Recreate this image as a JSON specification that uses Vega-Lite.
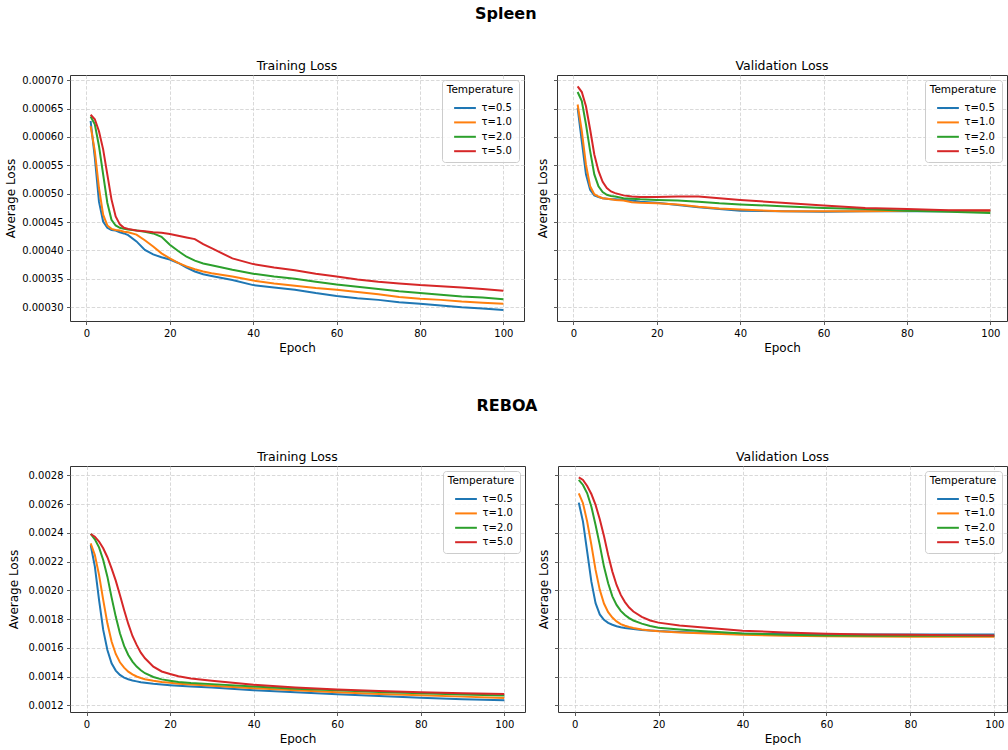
{
  "$schema": "https://vega.github.io/schema/vega-lite/v6.json",
  "padding": {"left": 4, "top": 6, "right": 0, "bottom": 0},
  "background": "white",
  "config": {
    "font": "DejaVu Sans",
    "view": {"stroke": "#333333", "strokeWidth": 1},
    "axis": {
      "domain": false, "grid": true, "gridColor": "#cfcfcf", "gridDash": [3.5, 1.8], "gridWidth": 0.8,
      "ticks": true, "tickColor": "#333333", "tickSize": 3.5, "tickWidth": 0.8,
      "labelFontSize": 10, "labelColor": "#000000", "labelPadding": 3.5,
      "titleFontSize": 12, "titleFontWeight": "normal", "titleColor": "#000000", "titlePadding": 4
    },
    "title": {"fontSize": 12.5, "fontWeight": "normal", "color": "#000000", "offset": 3},
    "legend": {
      "orient": "top-right", "offset": 5, "padding": 5,
      "fillColor": "rgba(255,255,255,0.8)", "strokeColor": "#cccccc", "cornerRadius": 3,
      "titleFontSize": 10.5, "titleFontWeight": "normal", "titleColor": "#000000", "titleAnchor": "middle", "titlePadding": 4,
      "labelFontSize": 10, "labelColor": "#000000", "labelOffset": 8,
      "symbolType": "M-1.45,0H1.45", "symbolSize": 225, "symbolStrokeWidth": 2, "symbolOffset": 7.5, "rowPadding": 0.4
    }
  },
  "datasets": {
    "spleen_train": [
      {"tau":"τ=0.5","epoch":1,"loss":0.000628},{"tau":"τ=0.5","epoch":2,"loss":0.000564},{"tau":"τ=0.5","epoch":3,"loss":0.000486},{"tau":"τ=0.5","epoch":4,"loss":0.000451},{"tau":"τ=0.5","epoch":5,"loss":0.00044},{"tau":"τ=0.5","epoch":6,"loss":0.000436},{"tau":"τ=0.5","epoch":7,"loss":0.000435},{"tau":"τ=0.5","epoch":8,"loss":0.000432},{"tau":"τ=0.5","epoch":9,"loss":0.00043},{"tau":"τ=0.5","epoch":10,"loss":0.000427},{"tau":"τ=0.5","epoch":12,"loss":0.000416},{"tau":"τ=0.5","epoch":14,"loss":0.000401},{"tau":"τ=0.5","epoch":16,"loss":0.000393},{"tau":"τ=0.5","epoch":18,"loss":0.000388},{"tau":"τ=0.5","epoch":20,"loss":0.000384},{"tau":"τ=0.5","epoch":22,"loss":0.000378},{"tau":"τ=0.5","epoch":24,"loss":0.00037},{"tau":"τ=0.5","epoch":26,"loss":0.000363},{"tau":"τ=0.5","epoch":28,"loss":0.000358},{"tau":"τ=0.5","epoch":30,"loss":0.000355},{"tau":"τ=0.5","epoch":35,"loss":0.000348},{"tau":"τ=0.5","epoch":40,"loss":0.000339},{"tau":"τ=0.5","epoch":45,"loss":0.000335},{"tau":"τ=0.5","epoch":50,"loss":0.000331},{"tau":"τ=0.5","epoch":55,"loss":0.000325},{"tau":"τ=0.5","epoch":60,"loss":0.00032},{"tau":"τ=0.5","epoch":65,"loss":0.000316},{"tau":"τ=0.5","epoch":70,"loss":0.000313},{"tau":"τ=0.5","epoch":75,"loss":0.000309},{"tau":"τ=0.5","epoch":80,"loss":0.000306},{"tau":"τ=0.5","epoch":85,"loss":0.000303},{"tau":"τ=0.5","epoch":90,"loss":0.0003},{"tau":"τ=0.5","epoch":95,"loss":0.000298},{"tau":"τ=0.5","epoch":100,"loss":0.000295},
      {"tau":"τ=1.0","epoch":1,"loss":0.000619},{"tau":"τ=1.0","epoch":2,"loss":0.000575},{"tau":"τ=1.0","epoch":3,"loss":0.00051},{"tau":"τ=1.0","epoch":4,"loss":0.000463},{"tau":"τ=1.0","epoch":5,"loss":0.000444},{"tau":"τ=1.0","epoch":6,"loss":0.000438},{"tau":"τ=1.0","epoch":7,"loss":0.000436},{"tau":"τ=1.0","epoch":8,"loss":0.000435},{"tau":"τ=1.0","epoch":9,"loss":0.000433},{"tau":"τ=1.0","epoch":10,"loss":0.000432},{"tau":"τ=1.0","epoch":12,"loss":0.000428},{"tau":"τ=1.0","epoch":14,"loss":0.000418},{"tau":"τ=1.0","epoch":16,"loss":0.000407},{"tau":"τ=1.0","epoch":18,"loss":0.000395},{"tau":"τ=1.0","epoch":20,"loss":0.000386},{"tau":"τ=1.0","epoch":22,"loss":0.000378},{"tau":"τ=1.0","epoch":24,"loss":0.000372},{"tau":"τ=1.0","epoch":26,"loss":0.000367},{"tau":"τ=1.0","epoch":28,"loss":0.000363},{"tau":"τ=1.0","epoch":30,"loss":0.00036},{"tau":"τ=1.0","epoch":35,"loss":0.000354},{"tau":"τ=1.0","epoch":40,"loss":0.000347},{"tau":"τ=1.0","epoch":45,"loss":0.000342},{"tau":"τ=1.0","epoch":50,"loss":0.000338},{"tau":"τ=1.0","epoch":55,"loss":0.000334},{"tau":"τ=1.0","epoch":60,"loss":0.000331},{"tau":"τ=1.0","epoch":65,"loss":0.000327},{"tau":"τ=1.0","epoch":70,"loss":0.000323},{"tau":"τ=1.0","epoch":75,"loss":0.000318},{"tau":"τ=1.0","epoch":80,"loss":0.000315},{"tau":"τ=1.0","epoch":85,"loss":0.000313},{"tau":"τ=1.0","epoch":90,"loss":0.00031},{"tau":"τ=1.0","epoch":95,"loss":0.000308},{"tau":"τ=1.0","epoch":100,"loss":0.000306},
      {"tau":"τ=2.0","epoch":1,"loss":0.000636},{"tau":"τ=2.0","epoch":2,"loss":0.000622},{"tau":"τ=2.0","epoch":3,"loss":0.000584},{"tau":"τ=2.0","epoch":4,"loss":0.000534},{"tau":"τ=2.0","epoch":5,"loss":0.000484},{"tau":"τ=2.0","epoch":6,"loss":0.000454},{"tau":"τ=2.0","epoch":7,"loss":0.000444},{"tau":"τ=2.0","epoch":8,"loss":0.00044},{"tau":"τ=2.0","epoch":9,"loss":0.000438},{"tau":"τ=2.0","epoch":10,"loss":0.000437},{"tau":"τ=2.0","epoch":12,"loss":0.000435},{"tau":"τ=2.0","epoch":14,"loss":0.000433},{"tau":"τ=2.0","epoch":16,"loss":0.00043},{"tau":"τ=2.0","epoch":18,"loss":0.000424},{"tau":"τ=2.0","epoch":20,"loss":0.00041},{"tau":"τ=2.0","epoch":22,"loss":0.000399},{"tau":"τ=2.0","epoch":24,"loss":0.000389},{"tau":"τ=2.0","epoch":26,"loss":0.000382},{"tau":"τ=2.0","epoch":28,"loss":0.000377},{"tau":"τ=2.0","epoch":30,"loss":0.000374},{"tau":"τ=2.0","epoch":35,"loss":0.000366},{"tau":"τ=2.0","epoch":40,"loss":0.000359},{"tau":"τ=2.0","epoch":45,"loss":0.000354},{"tau":"τ=2.0","epoch":50,"loss":0.00035},{"tau":"τ=2.0","epoch":55,"loss":0.000345},{"tau":"τ=2.0","epoch":60,"loss":0.00034},{"tau":"τ=2.0","epoch":65,"loss":0.000336},{"tau":"τ=2.0","epoch":70,"loss":0.000332},{"tau":"τ=2.0","epoch":75,"loss":0.000328},{"tau":"τ=2.0","epoch":80,"loss":0.000325},{"tau":"τ=2.0","epoch":85,"loss":0.000322},{"tau":"τ=2.0","epoch":90,"loss":0.000319},{"tau":"τ=2.0","epoch":95,"loss":0.000317},{"tau":"τ=2.0","epoch":100,"loss":0.000314},
      {"tau":"τ=5.0","epoch":1,"loss":0.000639},{"tau":"τ=5.0","epoch":2,"loss":0.000631},{"tau":"τ=5.0","epoch":3,"loss":0.00061},{"tau":"τ=5.0","epoch":4,"loss":0.000578},{"tau":"τ=5.0","epoch":5,"loss":0.000534},{"tau":"τ=5.0","epoch":6,"loss":0.00049},{"tau":"τ=5.0","epoch":7,"loss":0.00046},{"tau":"τ=5.0","epoch":8,"loss":0.000446},{"tau":"τ=5.0","epoch":9,"loss":0.00044},{"tau":"τ=5.0","epoch":10,"loss":0.000438},{"tau":"τ=5.0","epoch":12,"loss":0.000435},{"tau":"τ=5.0","epoch":14,"loss":0.000434},{"tau":"τ=5.0","epoch":16,"loss":0.000432},{"tau":"τ=5.0","epoch":18,"loss":0.000431},{"tau":"τ=5.0","epoch":20,"loss":0.000429},{"tau":"τ=5.0","epoch":22,"loss":0.000426},{"tau":"τ=5.0","epoch":24,"loss":0.000423},{"tau":"τ=5.0","epoch":26,"loss":0.00042},{"tau":"τ=5.0","epoch":28,"loss":0.000411},{"tau":"τ=5.0","epoch":30,"loss":0.000404},{"tau":"τ=5.0","epoch":35,"loss":0.000386},{"tau":"τ=5.0","epoch":40,"loss":0.000376},{"tau":"τ=5.0","epoch":45,"loss":0.00037},{"tau":"τ=5.0","epoch":50,"loss":0.000365},{"tau":"τ=5.0","epoch":55,"loss":0.000359},{"tau":"τ=5.0","epoch":60,"loss":0.000354},{"tau":"τ=5.0","epoch":65,"loss":0.000349},{"tau":"τ=5.0","epoch":70,"loss":0.000345},{"tau":"τ=5.0","epoch":75,"loss":0.000342},{"tau":"τ=5.0","epoch":80,"loss":0.000339},{"tau":"τ=5.0","epoch":85,"loss":0.000337},{"tau":"τ=5.0","epoch":90,"loss":0.000335},{"tau":"τ=5.0","epoch":95,"loss":0.000332},{"tau":"τ=5.0","epoch":100,"loss":0.000329}
    ],
    "spleen_val": [
      {"tau":"τ=0.5","epoch":1,"loss":0.000651},{"tau":"τ=0.5","epoch":2,"loss":0.000592},{"tau":"τ=0.5","epoch":3,"loss":0.000534},{"tau":"τ=0.5","epoch":4,"loss":0.000507},{"tau":"τ=0.5","epoch":5,"loss":0.000497},{"tau":"τ=0.5","epoch":6,"loss":0.000494},{"tau":"τ=0.5","epoch":7,"loss":0.000492},{"tau":"τ=0.5","epoch":8,"loss":0.000491},{"tau":"τ=0.5","epoch":9,"loss":0.00049},{"tau":"τ=0.5","epoch":10,"loss":0.00049},{"tau":"τ=0.5","epoch":12,"loss":0.000489},{"tau":"τ=0.5","epoch":14,"loss":0.000488},{"tau":"τ=0.5","epoch":16,"loss":0.000486},{"tau":"τ=0.5","epoch":20,"loss":0.000484},{"tau":"τ=0.5","epoch":25,"loss":0.00048},{"tau":"τ=0.5","epoch":30,"loss":0.000476},{"tau":"τ=0.5","epoch":35,"loss":0.000473},{"tau":"τ=0.5","epoch":40,"loss":0.00047},{"tau":"τ=0.5","epoch":50,"loss":0.000469},{"tau":"τ=0.5","epoch":60,"loss":0.000468},{"tau":"τ=0.5","epoch":70,"loss":0.000469},{"tau":"τ=0.5","epoch":80,"loss":0.000469},{"tau":"τ=0.5","epoch":90,"loss":0.000469},{"tau":"τ=0.5","epoch":100,"loss":0.000469},
      {"tau":"τ=1.0","epoch":1,"loss":0.000657},{"tau":"τ=1.0","epoch":2,"loss":0.00061},{"tau":"τ=1.0","epoch":3,"loss":0.000551},{"tau":"τ=1.0","epoch":4,"loss":0.000513},{"tau":"τ=1.0","epoch":5,"loss":0.000499},{"tau":"τ=1.0","epoch":6,"loss":0.000495},{"tau":"τ=1.0","epoch":7,"loss":0.000492},{"tau":"τ=1.0","epoch":8,"loss":0.000491},{"tau":"τ=1.0","epoch":9,"loss":0.00049},{"tau":"τ=1.0","epoch":10,"loss":0.000489},{"tau":"τ=1.0","epoch":12,"loss":0.000488},{"tau":"τ=1.0","epoch":14,"loss":0.000485},{"tau":"τ=1.0","epoch":16,"loss":0.000484},{"tau":"τ=1.0","epoch":20,"loss":0.000483},{"tau":"τ=1.0","epoch":25,"loss":0.000481},{"tau":"τ=1.0","epoch":30,"loss":0.000477},{"tau":"τ=1.0","epoch":35,"loss":0.000474},{"tau":"τ=1.0","epoch":40,"loss":0.000472},{"tau":"τ=1.0","epoch":50,"loss":0.000469},{"tau":"τ=1.0","epoch":60,"loss":0.000469},{"tau":"τ=1.0","epoch":70,"loss":0.000469},{"tau":"τ=1.0","epoch":80,"loss":0.00047},{"tau":"τ=1.0","epoch":90,"loss":0.00047},{"tau":"τ=1.0","epoch":100,"loss":0.00047},
      {"tau":"τ=2.0","epoch":1,"loss":0.000679},{"tau":"τ=2.0","epoch":2,"loss":0.000663},{"tau":"τ=2.0","epoch":3,"loss":0.000622},{"tau":"τ=2.0","epoch":4,"loss":0.000575},{"tau":"τ=2.0","epoch":5,"loss":0.000534},{"tau":"τ=2.0","epoch":6,"loss":0.000513},{"tau":"τ=2.0","epoch":7,"loss":0.000503},{"tau":"τ=2.0","epoch":8,"loss":0.000498},{"tau":"τ=2.0","epoch":9,"loss":0.000496},{"tau":"τ=2.0","epoch":10,"loss":0.000495},{"tau":"τ=2.0","epoch":12,"loss":0.000492},{"tau":"τ=2.0","epoch":14,"loss":0.000491},{"tau":"τ=2.0","epoch":16,"loss":0.00049},{"tau":"τ=2.0","epoch":20,"loss":0.000489},{"tau":"τ=2.0","epoch":25,"loss":0.000488},{"tau":"τ=2.0","epoch":30,"loss":0.000486},{"tau":"τ=2.0","epoch":35,"loss":0.000483},{"tau":"τ=2.0","epoch":40,"loss":0.000481},{"tau":"τ=2.0","epoch":50,"loss":0.000478},{"tau":"τ=2.0","epoch":60,"loss":0.000475},{"tau":"τ=2.0","epoch":70,"loss":0.000473},{"tau":"τ=2.0","epoch":80,"loss":0.00047},{"tau":"τ=2.0","epoch":90,"loss":0.000468},{"tau":"τ=2.0","epoch":100,"loss":0.000466},
      {"tau":"τ=5.0","epoch":1,"loss":0.000689},{"tau":"τ=5.0","epoch":2,"loss":0.000679},{"tau":"τ=5.0","epoch":3,"loss":0.000654},{"tau":"τ=5.0","epoch":4,"loss":0.000613},{"tau":"τ=5.0","epoch":5,"loss":0.000569},{"tau":"τ=5.0","epoch":6,"loss":0.00054},{"tau":"τ=5.0","epoch":7,"loss":0.000521},{"tau":"τ=5.0","epoch":8,"loss":0.00051},{"tau":"τ=5.0","epoch":9,"loss":0.000504},{"tau":"τ=5.0","epoch":10,"loss":0.000501},{"tau":"τ=5.0","epoch":12,"loss":0.000497},{"tau":"τ=5.0","epoch":14,"loss":0.000495},{"tau":"τ=5.0","epoch":16,"loss":0.000494},{"tau":"τ=5.0","epoch":20,"loss":0.000494},{"tau":"τ=5.0","epoch":25,"loss":0.000495},{"tau":"τ=5.0","epoch":30,"loss":0.000495},{"tau":"τ=5.0","epoch":35,"loss":0.000492},{"tau":"τ=5.0","epoch":40,"loss":0.000489},{"tau":"τ=5.0","epoch":50,"loss":0.000484},{"tau":"τ=5.0","epoch":60,"loss":0.000479},{"tau":"τ=5.0","epoch":70,"loss":0.000475},{"tau":"τ=5.0","epoch":80,"loss":0.000473},{"tau":"τ=5.0","epoch":90,"loss":0.000471},{"tau":"τ=5.0","epoch":100,"loss":0.000471}
    ],
    "reboa_train": [
      {"tau":"τ=0.5","epoch":1,"loss":0.002315},{"tau":"τ=0.5","epoch":2,"loss":0.002165},{"tau":"τ=0.5","epoch":3,"loss":0.001933},{"tau":"τ=0.5","epoch":4,"loss":0.001724},{"tau":"τ=0.5","epoch":5,"loss":0.001585},{"tau":"τ=0.5","epoch":6,"loss":0.001492},{"tau":"τ=0.5","epoch":7,"loss":0.001441},{"tau":"τ=0.5","epoch":8,"loss":0.001411},{"tau":"τ=0.5","epoch":9,"loss":0.001392},{"tau":"τ=0.5","epoch":10,"loss":0.001381},{"tau":"τ=0.5","epoch":11,"loss":0.001372},{"tau":"τ=0.5","epoch":12,"loss":0.001366},{"tau":"τ=0.5","epoch":13,"loss":0.00136},{"tau":"τ=0.5","epoch":14,"loss":0.001356},{"tau":"τ=0.5","epoch":16,"loss":0.001349},{"tau":"τ=0.5","epoch":18,"loss":0.001344},{"tau":"τ=0.5","epoch":20,"loss":0.00134},{"tau":"τ=0.5","epoch":22,"loss":0.001336},{"tau":"τ=0.5","epoch":25,"loss":0.00133},{"tau":"τ=0.5","epoch":30,"loss":0.001323},{"tau":"τ=0.5","epoch":40,"loss":0.001305},{"tau":"τ=0.5","epoch":50,"loss":0.001291},{"tau":"τ=0.5","epoch":60,"loss":0.001277},{"tau":"τ=0.5","epoch":70,"loss":0.001265},{"tau":"τ=0.5","epoch":80,"loss":0.001253},{"tau":"τ=0.5","epoch":90,"loss":0.001242},{"tau":"τ=0.5","epoch":100,"loss":0.001235},
      {"tau":"τ=1.0","epoch":1,"loss":0.002327},{"tau":"τ=1.0","epoch":2,"loss":0.002246},{"tau":"τ=1.0","epoch":3,"loss":0.002107},{"tau":"τ=1.0","epoch":4,"loss":0.001933},{"tau":"τ=1.0","epoch":5,"loss":0.00177},{"tau":"τ=1.0","epoch":6,"loss":0.001643},{"tau":"τ=1.0","epoch":7,"loss":0.001557},{"tau":"τ=1.0","epoch":8,"loss":0.001499},{"tau":"τ=1.0","epoch":9,"loss":0.001462},{"tau":"τ=1.0","epoch":10,"loss":0.001434},{"tau":"τ=1.0","epoch":11,"loss":0.001415},{"tau":"τ=1.0","epoch":12,"loss":0.0014},{"tau":"τ=1.0","epoch":13,"loss":0.00139},{"tau":"τ=1.0","epoch":14,"loss":0.001381},{"tau":"τ=1.0","epoch":16,"loss":0.00137},{"tau":"τ=1.0","epoch":18,"loss":0.001362},{"tau":"τ=1.0","epoch":20,"loss":0.001356},{"tau":"τ=1.0","epoch":22,"loss":0.00135},{"tau":"τ=1.0","epoch":25,"loss":0.001344},{"tau":"τ=1.0","epoch":30,"loss":0.001336},{"tau":"τ=1.0","epoch":40,"loss":0.001319},{"tau":"τ=1.0","epoch":50,"loss":0.001305},{"tau":"τ=1.0","epoch":60,"loss":0.001291},{"tau":"τ=1.0","epoch":70,"loss":0.001279},{"tau":"τ=1.0","epoch":80,"loss":0.00127},{"tau":"τ=1.0","epoch":90,"loss":0.00126},{"tau":"τ=1.0","epoch":100,"loss":0.001251},
      {"tau":"τ=2.0","epoch":1,"loss":0.002392},{"tau":"τ=2.0","epoch":2,"loss":0.002355},{"tau":"τ=2.0","epoch":3,"loss":0.002299},{"tau":"τ=2.0","epoch":4,"loss":0.002211},{"tau":"τ=2.0","epoch":5,"loss":0.002095},{"tau":"τ=2.0","epoch":6,"loss":0.001951},{"tau":"τ=2.0","epoch":7,"loss":0.001817},{"tau":"τ=2.0","epoch":8,"loss":0.001701},{"tau":"τ=2.0","epoch":9,"loss":0.001613},{"tau":"τ=2.0","epoch":10,"loss":0.00155},{"tau":"τ=2.0","epoch":11,"loss":0.001504},{"tau":"τ=2.0","epoch":12,"loss":0.001469},{"tau":"τ=2.0","epoch":13,"loss":0.001443},{"tau":"τ=2.0","epoch":14,"loss":0.001423},{"tau":"τ=2.0","epoch":16,"loss":0.001397},{"tau":"τ=2.0","epoch":18,"loss":0.00138},{"tau":"τ=2.0","epoch":20,"loss":0.00137},{"tau":"τ=2.0","epoch":22,"loss":0.001362},{"tau":"τ=2.0","epoch":25,"loss":0.001355},{"tau":"τ=2.0","epoch":30,"loss":0.001347},{"tau":"τ=2.0","epoch":40,"loss":0.00133},{"tau":"τ=2.0","epoch":50,"loss":0.001314},{"tau":"τ=2.0","epoch":60,"loss":0.001305},{"tau":"τ=2.0","epoch":70,"loss":0.001293},{"tau":"τ=2.0","epoch":80,"loss":0.001284},{"tau":"τ=2.0","epoch":90,"loss":0.001274},{"tau":"τ=2.0","epoch":100,"loss":0.001267},
      {"tau":"τ=5.0","epoch":1,"loss":0.002392},{"tau":"τ=5.0","epoch":2,"loss":0.002373},{"tau":"τ=5.0","epoch":3,"loss":0.002339},{"tau":"τ=5.0","epoch":4,"loss":0.002292},{"tau":"τ=5.0","epoch":5,"loss":0.00223},{"tau":"τ=5.0","epoch":6,"loss":0.002153},{"tau":"τ=5.0","epoch":7,"loss":0.002067},{"tau":"τ=5.0","epoch":8,"loss":0.001967},{"tau":"τ=5.0","epoch":9,"loss":0.001863},{"tau":"τ=5.0","epoch":10,"loss":0.001766},{"tau":"τ=5.0","epoch":11,"loss":0.001682},{"tau":"τ=5.0","epoch":12,"loss":0.00162},{"tau":"τ=5.0","epoch":13,"loss":0.001566},{"tau":"τ=5.0","epoch":14,"loss":0.001527},{"tau":"τ=5.0","epoch":16,"loss":0.001469},{"tau":"τ=5.0","epoch":18,"loss":0.001435},{"tau":"τ=5.0","epoch":20,"loss":0.001418},{"tau":"τ=5.0","epoch":22,"loss":0.001402},{"tau":"τ=5.0","epoch":25,"loss":0.001386},{"tau":"τ=5.0","epoch":30,"loss":0.00137},{"tau":"τ=5.0","epoch":40,"loss":0.001342},{"tau":"τ=5.0","epoch":50,"loss":0.001323},{"tau":"τ=5.0","epoch":60,"loss":0.00131},{"tau":"τ=5.0","epoch":70,"loss":0.0013},{"tau":"τ=5.0","epoch":80,"loss":0.001291},{"tau":"τ=5.0","epoch":90,"loss":0.001284},{"tau":"τ=5.0","epoch":100,"loss":0.001279}
    ],
    "reboa_val": [
      {"tau":"τ=0.5","epoch":1,"loss":0.00261},{"tau":"τ=0.5","epoch":2,"loss":0.002478},{"tau":"τ=0.5","epoch":3,"loss":0.002269},{"tau":"τ=0.5","epoch":4,"loss":0.00206},{"tau":"τ=0.5","epoch":5,"loss":0.00191},{"tau":"τ=0.5","epoch":6,"loss":0.001832},{"tau":"τ=0.5","epoch":7,"loss":0.001795},{"tau":"τ=0.5","epoch":8,"loss":0.001773},{"tau":"τ=0.5","epoch":9,"loss":0.00176},{"tau":"τ=0.5","epoch":10,"loss":0.00175},{"tau":"τ=0.5","epoch":11,"loss":0.001743},{"tau":"τ=0.5","epoch":12,"loss":0.001738},{"tau":"τ=0.5","epoch":13,"loss":0.001734},{"tau":"τ=0.5","epoch":14,"loss":0.00173},{"tau":"τ=0.5","epoch":16,"loss":0.001724},{"tau":"τ=0.5","epoch":18,"loss":0.00172},{"tau":"τ=0.5","epoch":20,"loss":0.001716},{"tau":"τ=0.5","epoch":25,"loss":0.00171},{"tau":"τ=0.5","epoch":30,"loss":0.001705},{"tau":"τ=0.5","epoch":40,"loss":0.001698},{"tau":"τ=0.5","epoch":50,"loss":0.001695},{"tau":"τ=0.5","epoch":60,"loss":0.001693},{"tau":"τ=0.5","epoch":70,"loss":0.001693},{"tau":"τ=0.5","epoch":80,"loss":0.001693},{"tau":"τ=0.5","epoch":90,"loss":0.001693},{"tau":"τ=0.5","epoch":100,"loss":0.001693},
      {"tau":"τ=1.0","epoch":1,"loss":0.002675},{"tau":"τ=1.0","epoch":2,"loss":0.002606},{"tau":"τ=1.0","epoch":3,"loss":0.002478},{"tau":"τ=1.0","epoch":4,"loss":0.002316},{"tau":"τ=1.0","epoch":5,"loss":0.002142},{"tau":"τ=1.0","epoch":6,"loss":0.002003},{"tau":"τ=1.0","epoch":7,"loss":0.001908},{"tau":"τ=1.0","epoch":8,"loss":0.001848},{"tau":"τ=1.0","epoch":9,"loss":0.00181},{"tau":"τ=1.0","epoch":10,"loss":0.001783},{"tau":"τ=1.0","epoch":11,"loss":0.001765},{"tau":"τ=1.0","epoch":12,"loss":0.001753},{"tau":"τ=1.0","epoch":13,"loss":0.001744},{"tau":"τ=1.0","epoch":14,"loss":0.001737},{"tau":"τ=1.0","epoch":16,"loss":0.001727},{"tau":"τ=1.0","epoch":18,"loss":0.00172},{"tau":"τ=1.0","epoch":20,"loss":0.001715},{"tau":"τ=1.0","epoch":25,"loss":0.001707},{"tau":"τ=1.0","epoch":30,"loss":0.001701},{"tau":"τ=1.0","epoch":40,"loss":0.001691},{"tau":"τ=1.0","epoch":50,"loss":0.001684},{"tau":"τ=1.0","epoch":60,"loss":0.00168},{"tau":"τ=1.0","epoch":70,"loss":0.001678},{"tau":"τ=1.0","epoch":80,"loss":0.001677},{"tau":"τ=1.0","epoch":90,"loss":0.001677},{"tau":"τ=1.0","epoch":100,"loss":0.001677},
      {"tau":"τ=2.0","epoch":1,"loss":0.002768},{"tau":"τ=2.0","epoch":2,"loss":0.002733},{"tau":"τ=2.0","epoch":3,"loss":0.002675},{"tau":"τ=2.0","epoch":4,"loss":0.002582},{"tau":"τ=2.0","epoch":5,"loss":0.002455},{"tau":"τ=2.0","epoch":6,"loss":0.002316},{"tau":"τ=2.0","epoch":7,"loss":0.002165},{"tau":"τ=2.0","epoch":8,"loss":0.002049},{"tau":"τ=2.0","epoch":9,"loss":0.001958},{"tau":"τ=2.0","epoch":10,"loss":0.001898},{"tau":"τ=2.0","epoch":11,"loss":0.001857},{"tau":"τ=2.0","epoch":12,"loss":0.001828},{"tau":"τ=2.0","epoch":13,"loss":0.001806},{"tau":"τ=2.0","epoch":14,"loss":0.00179},{"tau":"τ=2.0","epoch":16,"loss":0.001768},{"tau":"τ=2.0","epoch":18,"loss":0.001752},{"tau":"τ=2.0","epoch":20,"loss":0.00174},{"tau":"τ=2.0","epoch":25,"loss":0.001727},{"tau":"τ=2.0","epoch":30,"loss":0.001717},{"tau":"τ=2.0","epoch":40,"loss":0.0017},{"tau":"τ=2.0","epoch":50,"loss":0.001691},{"tau":"τ=2.0","epoch":60,"loss":0.001686},{"tau":"τ=2.0","epoch":70,"loss":0.001684},{"tau":"τ=2.0","epoch":80,"loss":0.001683},{"tau":"τ=2.0","epoch":90,"loss":0.001683},{"tau":"τ=2.0","epoch":100,"loss":0.001683},
      {"tau":"τ=5.0","epoch":1,"loss":0.002786},{"tau":"τ=5.0","epoch":2,"loss":0.002768},{"tau":"τ=5.0","epoch":3,"loss":0.002726},{"tau":"τ=5.0","epoch":4,"loss":0.00267},{"tau":"τ=5.0","epoch":5,"loss":0.002594},{"tau":"τ=5.0","epoch":6,"loss":0.002494},{"tau":"τ=5.0","epoch":7,"loss":0.002378},{"tau":"τ=5.0","epoch":8,"loss":0.002246},{"tau":"τ=5.0","epoch":9,"loss":0.00213},{"tau":"τ=5.0","epoch":10,"loss":0.002037},{"tau":"τ=5.0","epoch":11,"loss":0.001968},{"tau":"τ=5.0","epoch":12,"loss":0.001918},{"tau":"τ=5.0","epoch":13,"loss":0.00188},{"tau":"τ=5.0","epoch":14,"loss":0.001852},{"tau":"τ=5.0","epoch":16,"loss":0.001815},{"tau":"τ=5.0","epoch":18,"loss":0.00179},{"tau":"τ=5.0","epoch":20,"loss":0.001775},{"tau":"τ=5.0","epoch":25,"loss":0.001755},{"tau":"τ=5.0","epoch":30,"loss":0.001742},{"tau":"τ=5.0","epoch":40,"loss":0.001719},{"tau":"τ=5.0","epoch":50,"loss":0.001707},{"tau":"τ=5.0","epoch":60,"loss":0.001698},{"tau":"τ=5.0","epoch":70,"loss":0.001693},{"tau":"τ=5.0","epoch":80,"loss":0.001691},{"tau":"τ=5.0","epoch":90,"loss":0.001688},{"tau":"τ=5.0","epoch":100,"loss":0.001686}
    ]
  },
  "resolve": {"scale": {"color": "independent"}, "legend": {"color": "independent"}},
  "spacing": 44,
  "vconcat": [
    {
      "title": {"text": "Spleen", "fontSize": 16, "fontWeight": "bold", "anchor": "middle", "offset": 37},
      "resolve": {"scale": {"color": "independent"}, "legend": {"color": "independent"}},
      "spacing": 10,
      "hconcat": [
        {
          "width": 454, "height": 246,
          "data": {"name": "spleen_train"},
          "title": "Training Loss",
          "mark": {"type": "line", "strokeWidth": 2},
          "encoding": {
            "x": {"field": "epoch", "type": "quantitative", "scale": {"domain": [-3.95, 104.95], "nice": false, "zero": false}, "axis": {"title": "Epoch", "values": [0, 20, 40, 60, 80, 100], "format": "d"}},
            "y": {"field": "loss", "type": "quantitative", "scale": {"domain": [0.0002758, 0.000709], "nice": false, "zero": false}, "axis": {"title": "Average Loss", "values": [0.0003, 0.00035, 0.0004, 0.00045, 0.0005, 0.00055, 0.0006, 0.00065, 0.0007], "format": ".5f"}},
            "color": {"field": "tau", "type": "nominal", "scale": {"domain": ["τ=0.5", "τ=1.0", "τ=2.0", "τ=5.0"], "range": ["#1f77b4", "#ff7f0e", "#2ca02c", "#d62728"]}, "legend": {"title": "Temperature"}}
          }
        },
        {
          "width": 450, "height": 246,
          "data": {"name": "spleen_val"},
          "title": "Validation Loss",
          "mark": {"type": "line", "strokeWidth": 2},
          "encoding": {
            "x": {"field": "epoch", "type": "quantitative", "scale": {"domain": [-3.95, 104.0], "nice": false, "zero": false}, "axis": {"title": "Epoch", "values": [0, 20, 40, 60, 80, 100], "format": "d"}},
            "y": {"field": "loss", "type": "quantitative", "scale": {"domain": [0.0002758, 0.000709], "nice": false, "zero": false}, "axis": {"title": "Average Loss", "labels": false, "values": [0.0003, 0.00035, 0.0004, 0.00045, 0.0005, 0.00055, 0.0006, 0.00065, 0.0007]}},
            "color": {"field": "tau", "type": "nominal", "scale": {"domain": ["τ=0.5", "τ=1.0", "τ=2.0", "τ=5.0"], "range": ["#1f77b4", "#ff7f0e", "#2ca02c", "#d62728"]}, "legend": {"title": "Temperature"}}
          }
        }
      ]
    },
    {
      "title": {"text": "REBOA", "fontSize": 16, "fontWeight": "bold", "anchor": "middle", "offset": 36},
      "resolve": {"scale": {"color": "independent"}, "legend": {"color": "independent"}},
      "spacing": 10,
      "hconcat": [
        {
          "width": 455, "height": 246,
          "data": {"name": "reboa_train"},
          "title": "Training Loss",
          "mark": {"type": "line", "strokeWidth": 2},
          "encoding": {
            "x": {"field": "epoch", "type": "quantitative", "scale": {"domain": [-3.95, 104.95], "nice": false, "zero": false}, "axis": {"title": "Epoch", "values": [0, 20, 40, 60, 80, 100], "format": "d"}},
            "y": {"field": "loss", "type": "quantitative", "scale": {"domain": [0.001153, 0.002865], "nice": false, "zero": false}, "axis": {"title": "Average Loss", "minExtent": 46, "values": [0.0012, 0.0014, 0.0016, 0.0018, 0.002, 0.0022, 0.0024, 0.0026, 0.0028], "format": ".4f"}},
            "color": {"field": "tau", "type": "nominal", "scale": {"domain": ["τ=0.5", "τ=1.0", "τ=2.0", "τ=5.0"], "range": ["#1f77b4", "#ff7f0e", "#2ca02c", "#d62728"]}, "legend": {"title": "Temperature"}}
          }
        },
        {
          "width": 449, "height": 246,
          "data": {"name": "reboa_val"},
          "title": "Validation Loss",
          "mark": {"type": "line", "strokeWidth": 2},
          "encoding": {
            "x": {"field": "epoch", "type": "quantitative", "scale": {"domain": [-3.95, 103.0], "nice": false, "zero": false}, "axis": {"title": "Epoch", "values": [0, 20, 40, 60, 80, 100], "format": "d"}},
            "y": {"field": "loss", "type": "quantitative", "scale": {"domain": [0.001153, 0.002865], "nice": false, "zero": false}, "axis": {"title": "Average Loss", "labels": false, "values": [0.0012, 0.0014, 0.0016, 0.0018, 0.002, 0.0022, 0.0024, 0.0026, 0.0028]}},
            "color": {"field": "tau", "type": "nominal", "scale": {"domain": ["τ=0.5", "τ=1.0", "τ=2.0", "τ=5.0"], "range": ["#1f77b4", "#ff7f0e", "#2ca02c", "#d62728"]}, "legend": {"title": "Temperature"}}
          }
        }
      ]
    }
  ]
}
